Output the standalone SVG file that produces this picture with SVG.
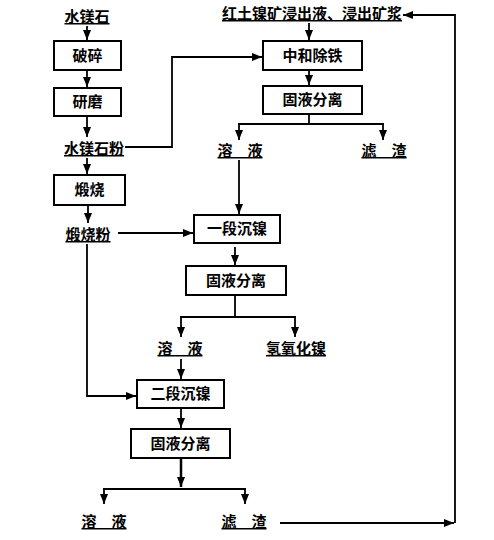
<svg xmlns="http://www.w3.org/2000/svg" width="494" height="540" viewBox="0 0 494 540">
<defs>
<marker id="ah" markerUnits="userSpaceOnUse" markerWidth="10" markerHeight="10" viewBox="0 0 10 10" refX="10" refY="5" orient="auto">
<path d="M0,1 L10,5 L0,9 Z" fill="#000"/>
</marker>
<style>
.box{fill:#fff;stroke:#000;stroke-width:2}
.t{font-family:"Noto Sans CJK SC","Noto Sans CJK JP",sans-serif;font-size:15px;font-weight:bold;text-anchor:middle;fill:#000}
.u{text-decoration:underline}
.c{fill:none;stroke:#000;stroke-width:1.8}
</style>
</defs>
<rect width="494" height="540" fill="#fff"/>
<g id="connectors">
<path class="c" d="M87,26 V40" marker-end="url(#ah)"/>
<path class="c" d="M87,70 V87" marker-end="url(#ah)"/>
<path class="c" d="M87,116 V137" marker-end="url(#ah)"/>
<path class="c" d="M125,147 H172 V57 H262" marker-end="url(#ah)"/>
<path class="c" d="M87,158 V174" marker-end="url(#ah)"/>
<path class="c" d="M88,205 V223" marker-end="url(#ah)"/>
<path class="c" d="M118,233 H193" marker-end="url(#ah)"/>
<path class="c" d="M87,244 V396 H136" marker-end="url(#ah)"/>
<path class="c" d="M309,23 V40" marker-end="url(#ah)"/>
<path class="c" d="M309,70 V85" marker-end="url(#ah)"/>
<path class="c" d="M309,114 V124"/>
<path class="c" d="M238,124 H384"/>
<path class="c" d="M239,124 V140" marker-end="url(#ah)"/>
<path class="c" d="M383,124 V140" marker-end="url(#ah)"/>
<path class="c" d="M239,160 V214" marker-end="url(#ah)"/>
<path class="c" d="M235,247 V265" marker-end="url(#ah)"/>
<path class="c" d="M235,295 V317"/>
<path class="c" d="M180,317 H296"/>
<path class="c" d="M181,317 V337" marker-end="url(#ah)"/>
<path class="c" d="M295,317 V337" marker-end="url(#ah)"/>
<path class="c" d="M181,359 V379" marker-end="url(#ah)"/>
<path class="c" d="M181,408 V428" marker-end="url(#ah)"/>
<path class="c" d="M181,458 V487" marker-end="url(#ah)" style="stroke-width:2.5"/>
<path class="c" d="M103,489 H246"/>
<path class="c" d="M104,489 V504" marker-end="url(#ah)"/>
<path class="c" d="M245,489 V504" marker-end="url(#ah)"/>
<path class="c" d="M280,523 H454" marker-end="url(#ah)"/>
<path class="c" d="M455,523 V15 H403" marker-end="url(#ah)"/>
</g>
<g id="n_shuimeishi"><text class="t u" x="87" y="22">水镁石</text></g>
<g id="n_posui"><rect class="box" x="54" y="41" width="67" height="29"/><text class="t" x="87.5" y="61">破碎</text></g>
<g id="n_yanmo"><rect class="box" x="54" y="88" width="67" height="28"/><text class="t" x="87.5" y="107">研磨</text></g>
<g id="n_shuimeishifen"><text class="t u" x="94" y="154">水镁石粉</text></g>
<g id="n_duanshao"><rect class="box" x="54" y="175" width="71" height="30"/><text class="t" x="89.5" y="195">煅烧</text></g>
<g id="n_duanshaofen"><text class="t u" x="88" y="240">煅烧粉</text></g>
<g id="n_hongtu"><text class="t u" x="312" y="19">红土镍矿浸出液、浸出矿浆</text></g>
<g id="n_zhonghe"><rect class="box" x="263" y="41" width="99" height="29"/><text class="t" x="312.5" y="61">中和除铁</text></g>
<g id="n_gyfl1"><rect class="box" x="263" y="86" width="99" height="28"/><text class="t" x="312.5" y="105">固液分离</text></g>
<g id="n_ry1"><text class="t u" x="240" y="156">溶　液</text></g>
<g id="n_lz1"><text class="t u" x="384" y="156">滤　渣</text></g>
<g id="n_yiduan"><rect class="box" x="194" y="215" width="86" height="28"/><text class="t" x="237" y="234">一段沉镍</text></g>
<g id="n_gyfl2"><rect class="box" x="186" y="266" width="100" height="29"/><text class="t" x="236" y="286">固液分离</text></g>
<g id="n_ry2"><text class="t u" x="180" y="354">溶　液</text></g>
<g id="n_qyhn"><text class="t u" x="296" y="354">氢氧化镍</text></g>
<g id="n_erduan"><rect class="box" x="137" y="380" width="87" height="28"/><text class="t" x="180.5" y="399">二段沉镍</text></g>
<g id="n_gyfl3"><rect class="box" x="131" y="429" width="99" height="29"/><text class="t" x="180.5" y="449">固液分离</text></g>
<g id="n_ry3"><text class="t u" x="104" y="527">溶　液</text></g>
<g id="n_lz3"><text class="t u" x="244" y="527">滤　渣</text></g>
</svg>
